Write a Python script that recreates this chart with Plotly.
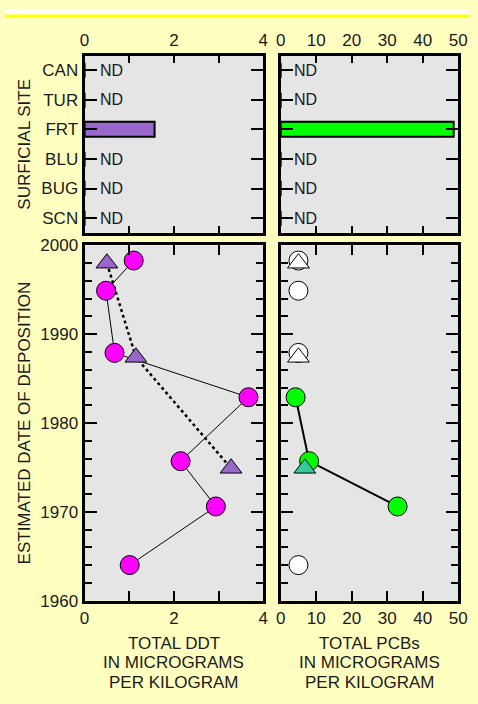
import plotly.graph_objects as go

# ---------------- data ----------------
sites = ["CAN", "TUR", "FRT", "BLU", "BUG", "SCN"]
ddt_surface = [None, None, 1.57, None, None, None]      # None = ND
pcb_surface = [None, None, 48.6, None, None, None]

core_years = [1998.3, 1994.9, 1987.9, 1982.9, 1975.7, 1970.6, 1964.0]
ddt_core = [1.10, 0.48, 0.67, 3.67, 2.15, 2.94, 1.01]
pcb_core = [5.0, 5.0, 5.0, 4.2, 8.0, 32.9, 5.0]
pcb_core_detected = [False, False, False, True, True, True, False]

tri_years = [1998.0, 1987.4, 1974.9]
ddt_tri = [0.50, 1.15, 3.28]
pcb_tri = [5.0, 5.0, 6.8]
pcb_tri_detected = [False, False, True]

ddt_title = ["TOTAL DDT", "IN MICROGRAMS", "PER KILOGRAM"]
pcb_title = ["TOTAL PCBs", "IN MICROGRAMS", "PER KILOGRAM"]

W, H = 478, 704
FONT = "Liberation Sans, Arial, sans-serif"
TXT = "#1a1a1a"
FS = 17

def px_x(a):
    return a / W

def px_y(a):
    return (H - a) / H

fig = go.Figure()

fig.add_trace(go.Bar(y=sites, x=[v if v is not None else 0 for v in ddt_surface],
                     orientation="h", width=0.5, marker=dict(color="#9966CC", line=dict(color="black", width=2)),
                     xaxis="x", yaxis="y", showlegend=False))
fig.add_trace(go.Bar(y=sites, x=[v if v is not None else 0 for v in pcb_surface],
                     orientation="h", width=0.5, marker=dict(color="#00FF00", line=dict(color="black", width=2)),
                     xaxis="x2", yaxis="y2", showlegend=False))

fig.add_trace(go.Scatter(x=ddt_tri, y=tri_years, mode="lines",
                         line=dict(color="black", width=2.5, dash="dot"),
                         xaxis="x3", yaxis="y3", showlegend=False))
fig.add_trace(go.Scatter(x=ddt_core, y=core_years, mode="lines+markers",
                         line=dict(color="black", width=1),
                         marker=dict(symbol="circle", size=19, color="#FF00FF", line=dict(color="black", width=1)),
                         xaxis="x3", yaxis="y3", showlegend=False))
fig.add_trace(go.Scatter(x=ddt_tri, y=tri_years, mode="markers",
                         marker=dict(symbol="triangle-up", size=19, color="#9966CC", line=dict(color="black", width=1)),
                         xaxis="x3", yaxis="y3", showlegend=False))

det_x = [x for x, d in zip(pcb_core, pcb_core_detected) if d]
det_y = [y for y, d in zip(core_years, pcb_core_detected) if d]
nd_x = [x for x, d in zip(pcb_core, pcb_core_detected) if not d]
nd_y = [y for y, d in zip(core_years, pcb_core_detected) if not d]
fig.add_trace(go.Scatter(x=det_x, y=det_y, mode="lines",
                         line=dict(color="black", width=2),
                         xaxis="x4", yaxis="y4", showlegend=False))
fig.add_trace(go.Scatter(x=nd_x, y=nd_y, mode="markers",
                         marker=dict(symbol="circle", size=19, color="white", line=dict(color="black", width=1)),
                         xaxis="x4", yaxis="y4", showlegend=False))
fig.add_trace(go.Scatter(x=det_x, y=det_y, mode="markers",
                         marker=dict(symbol="circle", size=19, color="#00FF00", line=dict(color="black", width=1)),
                         xaxis="x4", yaxis="y4", showlegend=False))
tx_nd = [x for x, d in zip(pcb_tri, pcb_tri_detected) if not d]
ty_nd = [y for y, d in zip(tri_years, pcb_tri_detected) if not d]
tx_d = [x for x, d in zip(pcb_tri, pcb_tri_detected) if d]
ty_d = [y for y, d in zip(tri_years, pcb_tri_detected) if d]
fig.add_trace(go.Scatter(x=tx_nd, y=ty_nd, mode="markers",
                         marker=dict(symbol="triangle-up", size=19, color="white", line=dict(color="black", width=1)),
                         xaxis="x4", yaxis="y4", showlegend=False))
fig.add_trace(go.Scatter(x=tx_d, y=ty_d, mode="markers",
                         marker=dict(symbol="triangle-up", size=19, color="#33CC99", line=dict(color="black", width=1)),
                         xaxis="x4", yaxis="y4", showlegend=False))

xl = [px_x(82), px_x(266)]
xr = [px_x(284), px_x(467)]
yt = [px_y(230), px_y(48)]
yb = [px_y(608), px_y(243)]

tickfont = dict(family=FONT, size=FS, color=TXT)
common = dict(showline=True, linecolor="black", linewidth=3, mirror="allticks",
              ticks="inside", tickcolor="black", tickwidth=2, showgrid=False, zeroline=False,
              tickfont=tickfont, fixedrange=True)

cat_order = list(reversed(sites))

fig.update_layout(
    xaxis=dict(domain=xl, anchor="y", range=[0, 4], side="top", tickvals=[0, 2, 4], ticklen=7,
               minor=dict(tickvals=[1, 3], ticklen=7, tickcolor="black", tickwidth=2, ticks="inside"), **common),
    yaxis=dict(domain=yt, anchor="x", type="category", categoryorder="array", categoryarray=cat_order,
               range=[-0.5, 5.5], ticklen=12, **common),
    xaxis2=dict(domain=xr, anchor="y2", range=[0, 50], side="top", dtick=10, tick0=0, ticklen=7, **common),
    yaxis2=dict(domain=yt, anchor="x2", type="category", categoryorder="array", categoryarray=cat_order,
                range=[-0.5, 5.5], ticklen=12, showticklabels=False, **common),
    xaxis3=dict(domain=xl, anchor="y3", range=[0, 4], tickvals=[0, 2, 4], ticklen=10,
                minor=dict(tickvals=[1, 3], ticklen=10, tickcolor="black", tickwidth=2, ticks="inside"), **common),
    yaxis3=dict(domain=yb, anchor="x3", range=[1960, 2000], dtick=10, tick0=1960, ticklen=12,
                minor=dict(dtick=2, ticklen=7, tickcolor="black", tickwidth=2, ticks="inside"), **common),
    xaxis4=dict(domain=xr, anchor="y4", range=[0, 50], dtick=10, tick0=0, ticklen=10, **common),
    yaxis4=dict(domain=yb, anchor="x4", range=[1960, 2000], dtick=10, tick0=1960, ticklen=12,
                showticklabels=False,
                minor=dict(dtick=2, ticklen=7, tickcolor="black", tickwidth=2, ticks="inside"), **common),
)

annotations = []
for s, v in zip(sites, ddt_surface):
    if v is None:
        annotations.append(dict(x=0, y=s, xref="x", yref="y", text="ND", showarrow=False,
                                xanchor="left", yanchor="middle", xshift=13,
                                font=dict(family=FONT, size=16, color=TXT)))
for s, v in zip(sites, pcb_surface):
    if v is None:
        annotations.append(dict(x=0, y=s, xref="x2", yref="y2", text="ND", showarrow=False,
                                xanchor="left", yanchor="middle", xshift=11,
                                font=dict(family=FONT, size=16, color=TXT)))

titlefont = dict(family=FONT, size=FS, color=TXT)
annotations += [
    dict(x=px_x(20), y=(yt[0] + yt[1]) / 2, xref="paper", yref="paper", text="SURFICIAL SITE",
         textangle=-90, showarrow=False, xanchor="center", yanchor="middle", font=titlefont),
    dict(x=px_x(20), y=(yb[0] + yb[1]) / 2, xref="paper", yref="paper", text="ESTIMATED DATE OF DEPOSITION",
         textangle=-90, showarrow=False, xanchor="center", yanchor="middle", font=titlefont),
]
line_y = [652, 672, 692]
for lines, dom in ((ddt_title, xl), (pcb_title, xr)):
    for t, ly in zip(lines, line_y):
        annotations.append(dict(x=(dom[0] + dom[1]) / 2, y=px_y(ly), xref="paper", yref="paper",
                                text=t, showarrow=False, xanchor="center", yanchor="middle",
                                font=titlefont, borderpad=0))

shapes = [
    dict(type="rect", xref="paper", yref="paper", x0=0, x1=1, y0=px_y(6), y1=1,
         fillcolor="white", line=dict(width=0), layer="below"),
    dict(type="line", xref="paper", yref="paper", x0=0, x1=1, y0=px_y(7), y1=px_y(7),
         line=dict(color="#FFFF00", width=2.5), layer="below"),
]

fig.update_layout(
    width=W, height=H, autosize=False,
    margin=dict(l=0, r=0, t=0, b=0),
    paper_bgcolor="#FFFFBF", plot_bgcolor="#E5E5E5",
    font=dict(family=FONT, size=FS, color=TXT),
    annotations=annotations, shapes=shapes, showlegend=False, bargap=0,
)

# Page CSS: no body margin, nothing able to enlarge the page beyond the 478x704 window.
css = (
    "html,body{margin:0!important;padding:0!important;overflow:hidden!important;"
    "width:478px!important;height:704px!important;background:#FFFFBF;}"
    ".plotly-graph-div{position:fixed!important;left:0!important;top:0!important;"
    "width:478px!important;height:704px!important;overflow:hidden!important;}"
    "#js-plotly-tester{position:fixed!important;}"
)
js = (
    "var st=document.createElement('style');st.textContent='" + css + "';"
    "document.head.appendChild(st);"
    "window.scrollTo(0,0);"
)
# executed right after Plotly.newPlot is called (outside the promise chain)
post = "}); " + js + " (function(){"
fig.write_html("out.html", config=dict(displayModeBar=False), post_script=post)
